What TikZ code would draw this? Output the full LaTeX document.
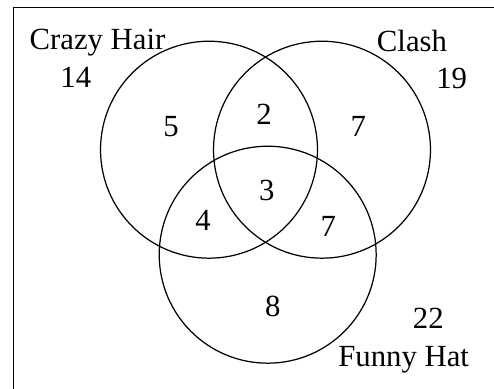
\documentclass[tikz,border=0pt]{standalone}
\usepackage{fontspec}
\setmainfont{Liberation Serif}
\usetikzlibrary{positioning}

\begin{document}
\begin{tikzpicture}[x=0.02cm, y=-0.02cm,
  font=\fontsize{17.5}{21}\selectfont,
  setline/.style={line width=0.7pt},
  lbl/.style={anchor=base, inner sep=0pt}]

\useasboundingbox (0,0) rectangle (494,389);

% frame (only left and top edges are on the page)
\draw[line width=0.9pt] (13.5,389) -- (13.5,7.5) -- (494,7.5);

% set centres
\coordinate (hair) at (209,149.7);
\coordinate (clash) at (322,149.7);
\coordinate (hat) at (267.7,254.7);

\draw[setline] (hair) circle[radius=2.17cm];
\draw[setline] (clash) circle[radius=2.17cm];
\draw[setline] (hat) circle[radius=2.17cm];

% set names and outside counts
\node[lbl] (hairname) at (97.5,49) {Crazy Hair};
\node[lbl] (hairout) at (75.8,87.3) {14};
\node[lbl] (clashname) at (412,51.7) {Clash};
\node[lbl] (clashout) at (451.7,88.3) {19};
\node[lbl] (hatout) at (428.3,328.3) {22};
\node[lbl] (hatname) at (403.7,366.7) {Funny Hat};

% region counts
\node[lbl] (onlyhair) at (171,136) {5};
\node[lbl] (hairclash) at (264,124) {2};
\node[lbl] (onlyclash) at (358.3,136) {7};
\node[lbl] (allthree) at (266.7,200) {3};
\node[lbl] (hairhat) at (203,230.7) {4};
\node[lbl] (clashhat) at (328.3,236.7) {7};
\node[lbl] (onlyhat) at (272.7,316) {8};

\end{tikzpicture}
\end{document}
